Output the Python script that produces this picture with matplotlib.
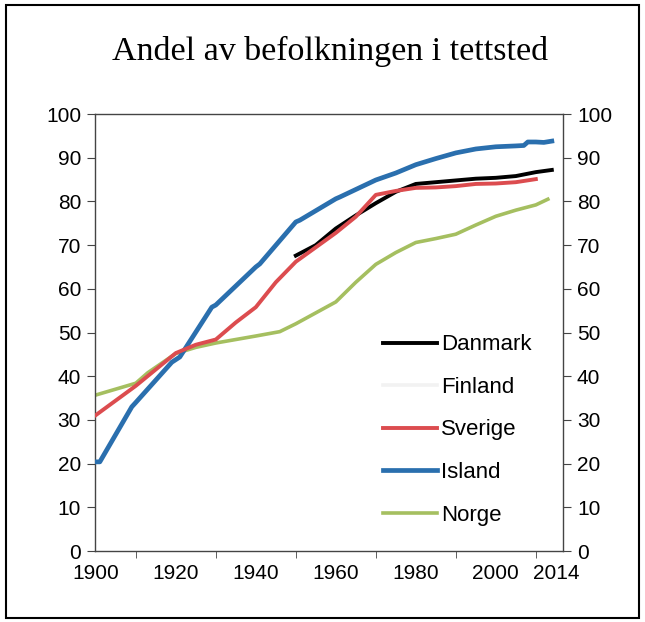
import matplotlib
matplotlib.use("Agg")
import matplotlib.pyplot as plt
from matplotlib.patches import Rectangle

title = "Andel av befolkningen i tettsted"

island_years = [1900, 1901, 1909, 1910, 1919, 1921, 1929, 1930, 1940, 1941, 1950, 1951,
                1960, 1961, 1970, 1975, 1980, 1985, 1990, 1995, 2000, 2005, 2007, 2008,
                2010, 2012, 2014]
island_vals = [20.4, 20.4, 33.0, 34.0, 43.2, 44.4, 55.8, 56.3, 65.0, 65.7, 75.3, 75.7,
               80.6, 81.0, 84.9, 86.5, 88.4, 89.8, 91.1, 92.0, 92.5, 92.7, 92.8, 93.6,
               93.6, 93.5, 93.8]

sverige_years = [1900, 1910, 1920, 1925, 1930, 1935, 1940, 1945, 1950, 1955, 1960, 1965,
                 1969, 1970, 1975, 1980, 1985, 1990, 1995, 2000, 2005, 2010]
sverige_vals = [31.1, 37.8, 45.3, 47.2, 48.4, 52.3, 55.8, 61.5, 66.2, 69.5, 72.8, 76.5,
                80.5, 81.5, 82.4, 83.1, 83.2, 83.5, 84.0, 84.1, 84.4, 85.1]

danmark_years = [1950, 1955, 1960, 1965, 1970, 1975, 1980, 1985, 1990, 1995, 2000, 2005,
                 2010, 2014]
danmark_vals = [67.6, 70.0, 73.8, 76.8, 79.6, 82.2, 84.0, 84.4, 84.8, 85.2, 85.4, 85.8,
                86.7, 87.2]

norge_years = [1900, 1910, 1913, 1920, 1925, 1930, 1940, 1946, 1950, 1955, 1960, 1965,
               1970, 1975, 1980, 1985, 1990, 1995, 2000, 2005, 2010, 2013]
norge_vals = [35.7, 38.4, 40.8, 45.2, 46.6, 47.6, 49.2, 50.2, 52.0, 54.5, 57.0, 61.5,
              65.6, 68.3, 70.6, 71.5, 72.5, 74.6, 76.6, 78.0, 79.2, 80.5]

finland_years = []
finland_vals = []

x_label_pos = [1900, 1920, 1940, 1960, 1980, 2000, 2015.2]
x_labels = ["1900", "1920", "1940", "1960", "1980", "2000", "2014"]
x_minor = list(range(1900, 2011, 10))
y_ticks = list(range(0, 101, 10))

plt.rcParams['font.family'] = ['Liberation Sans', 'DejaVu Sans']

fig = plt.figure(figsize=(6.45, 6.22), dpi=100)
ax = fig.add_axes([0.1473, 0.1141, 0.7256, 0.7026])

c_blue = "#2a6fae"
c_red = "#dc4c4f"
c_green = "#a5bf60"

ax.plot(norge_years, norge_vals, color=c_green, lw=2.6, label="Norge", zorder=2)
ax.plot(island_years, island_vals, color=c_blue, lw=3.4, label="Island", zorder=3)
ax.plot(danmark_years, danmark_vals, color="black", lw=2.8, label="Danmark", zorder=3)
ax.plot(sverige_years, sverige_vals, color=c_red, lw=2.8, label="Sverige", zorder=4)
ax.plot(finland_years, finland_vals, color="#f2f2f2", lw=2.6, label="Finland")

ax.set_xlim(1899.8, 2016.8)
ax.set_ylim(0, 100)

ax.set_xticks(x_label_pos)
ax.set_xticklabels(x_labels)
ax.set_xticks(x_minor, minor=True)
ax.tick_params(axis='x', which='major', length=0, pad=9, labelsize=15)
ax.tick_params(axis='x', which='minor', length=5, direction='out', color='#444444')

ax.set_yticks(y_ticks)
ax.tick_params(axis='y', which='major', length=6, direction='out', labelsize=15,
               left=True, right=True, labelleft=True, labelright=True, color='#444444',
               pad=4)

for s in ax.spines.values():
    s.set_color('#444444')
    s.set_linewidth(1.0)

handles, labels = ax.get_legend_handles_labels()
order = ["Danmark", "Finland", "Sverige", "Island", "Norge"]
hmap = dict(zip(labels, handles))
leg = ax.legend([hmap[k] for k in order], order, loc='center',
                bbox_to_anchor=(0.774, 0.277), frameon=False, fontsize=16,
                labelspacing=0.97, handlelength=2.45, handletextpad=0.2)

fig.text(0.512, 0.918, title, ha='center', va='center', fontsize=24.5,
         family=['Liberation Serif', 'DejaVu Serif'])

fig.patches.append(Rectangle((0.009, 0.006), 0.982, 0.986, transform=fig.transFigure,
                             fill=False, edgecolor='black', lw=1.5))

fig.savefig("out.png", dpi=100)
